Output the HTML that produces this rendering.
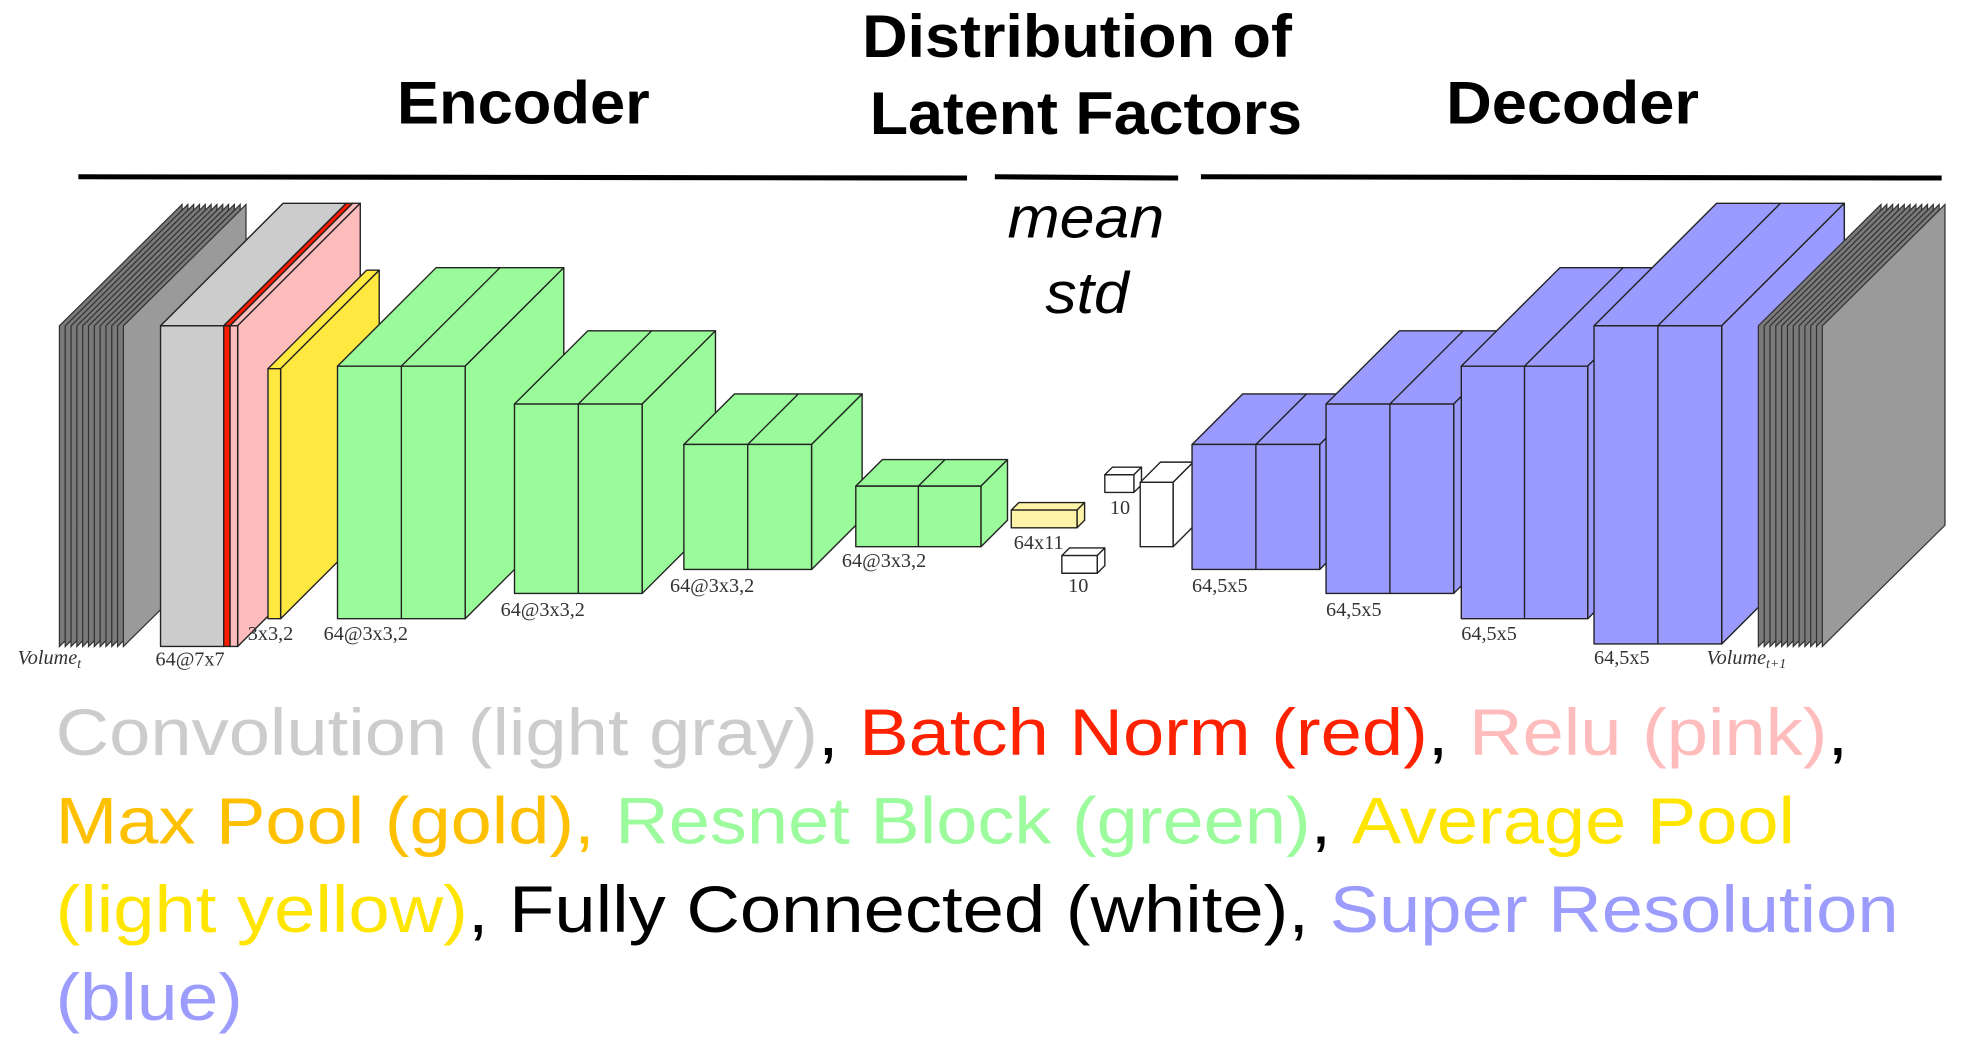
<!DOCTYPE html>
<html><head><meta charset="utf-8"><style>
html,body{margin:0;padding:0;background:#fff;width:1972px;height:1048px;overflow:hidden}
svg{display:block}
.lab{font-family:"Liberation Serif",serif;font-size:16px;fill:#333}
.leg{font-family:"Liberation Sans",sans-serif;font-size:52px}
</style></head><body>
<svg id="fig" width="1972" height="1048" viewBox="0 0 1560 830" preserveAspectRatio="none" xmlns="http://www.w3.org/2000/svg">
<g font-family="Liberation Sans, sans-serif" font-weight="bold" font-size="48">
<text x="314" y="98" textLength="200" lengthAdjust="spacingAndGlyphs">Encoder</text>
<text x="682" y="45" textLength="340" lengthAdjust="spacingAndGlyphs">Distribution of</text>
<text x="688" y="106" textLength="342" lengthAdjust="spacingAndGlyphs">Latent Factors</text>
<text x="1144" y="98" textLength="200" lengthAdjust="spacingAndGlyphs">Decoder</text>
</g>
<g stroke="#000" stroke-width="4">
<line x1="62" y1="140" x2="765" y2="141"/>
<line x1="787" y1="140" x2="932" y2="141"/>
<line x1="950" y1="140" x2="1536" y2="141"/>
</g>
<g font-family="Liberation Sans, sans-serif" font-style="italic" font-size="46">
<text x="797" y="188" textLength="124" lengthAdjust="spacingAndGlyphs">mean</text>
<text x="827" y="248" textLength="66" lengthAdjust="spacingAndGlyphs">std</text>
</g>
<g id="blocks"></g>
<g>
<text class="lab" x="14" y="526" font-style="italic" font-size="17">Volume<tspan font-size="11" dy="3">t</tspan></text>
<text class="lab" x="123" y="527">64@7x7</text>
<text class="lab" x="196" y="507">3x3,2</text>
<text class="lab" x="256" y="507">64@3x3,2</text>
<text class="lab" x="396" y="488">64@3x3,2</text>
<text class="lab" x="530" y="469">64@3x3,2</text>
<text class="lab" x="666" y="449">64@3x3,2</text>
<text class="lab" x="802" y="435">64x11</text>
<text class="lab" x="878" y="407">10</text>
<text class="lab" x="845" y="469">10</text>
<text class="lab" x="943" y="469">64,5x5</text>
<text class="lab" x="1049" y="488">64,5x5</text>
<text class="lab" x="1156" y="507">64,5x5</text>
<text class="lab" x="1261" y="526">64,5x5</text>
<text class="lab" x="1350" y="526" font-style="italic" font-size="17">Volume<tspan font-size="11" dy="3">t+1</tspan></text>
</g>
<g>
<text class="leg" x="44" y="598" textLength="1418" lengthAdjust="spacingAndGlyphs"><tspan fill="#cccccc">Convolution (light gray)</tspan><tspan fill="#000">, </tspan><tspan fill="#ff2200">Batch Norm (red)</tspan><tspan fill="#000">, </tspan><tspan fill="#ffbcbc">Relu (pink)</tspan><tspan fill="#000">,</tspan></text>
<text class="leg" x="44" y="668" textLength="1376" lengthAdjust="spacingAndGlyphs"><tspan fill="#ffc000">Max Pool (gold),</tspan><tspan fill="#9cfb9c"> Resnet Block (green)</tspan><tspan fill="#000">, </tspan><tspan fill="#ffe500">Average Pool</tspan></text>
<text class="leg" x="44" y="738" textLength="1458" lengthAdjust="spacingAndGlyphs"><tspan fill="#ffe500">(light yellow)</tspan><tspan fill="#000">, Fully Connected (white), </tspan><tspan fill="#9c9cff">Super Resolution</tspan></text>
<text class="leg" x="44" y="808" textLength="148" lengthAdjust="spacingAndGlyphs" fill="#9c9cff">(blue)</text>
</g>
</svg>
<script>
var NS='http://www.w3.org/2000/svg';
var G=document.getElementById('blocks');
// layer geometry: name, x, y(top of front), width, height, depth, fill, mid-split
var layerNames=['conv','batchnorm','relu','maxpool','resnet-1','resnet-2','resnet-3','resnet-4','avgpool','mean-fc','std-fc','fc','sr-1','sr-2','sr-3','sr-4'];
var layerX=[127,177,182,212,267,407,541,677,800,874,840,902,943,1049,1156,1261];
var layerY=[258,258,258,292,290,320,352,385,404,376,440,382,352,320,290,258];
var layerW=[50,5,6,10,101,101,101,99,52,23,28,26,101,101,100,101];
var layerH=[254,254,254,198,200,150,99,48,14,14,14,51,99,150,200,252];
var layerD=[97,97,97,78,78,58,40,21,6,6,6,16,40,58,78,97];
var layerFill=['#cccccc','#ff1a00','#ffbcbc','#ffe83f','#99fb99','#99fb99','#99fb99','#99fb99','#fff3a8','#ffffff','#ffffff','#ffffff','#9a9aff','#9a9aff','#9a9aff','#9a9aff'];
var layerSplit=[0,0,0,0,1,1,1,1,0,0,0,0,1,1,1,1];
function mk(tag,attrs,parent){var e=document.createElementNS(NS,tag);for(var k in attrs)e.setAttribute(k,attrs[k]);parent.appendChild(e);return e;}
function box(name,x,y,w,h,d,fill,split){
  var g=mk('g',{stroke:'#222','stroke-width':1.1,'stroke-linejoin':'round'},G);
  
  
  mk('polygon',{points:[x,y,x+d,y-d,x+w+d,y-d,x+w,y].join(','),fill:fill},g);
  mk('polygon',{points:[x+w,y,x+w+d,y-d,x+w+d,y+h-d,x+w,y+h].join(','),fill:fill},g);
  mk('rect',{x:x,y:y,width:w,height:h,fill:fill},g);
  if(split){var m=x+w/2;mk('line',{x1:m,y1:y,x2:m,y2:y+h},g);mk('line',{x1:m,y1:y,x2:m+d,y2:y-d},g);}
}
function stack(name,x0,n){
  var g=mk('g',{},G);
  
  
  for(var i=0;i<n;i++){
    var x=x0+i*4.6;
    var p=mk('polygon',{points:[x,258,x+97,162,x+97,416,x,512].join(','),fill:i==n-1?'#9a9a9a':'#7a7a7a',stroke:'#333','stroke-width':1},g);
    
    
  }
}
stack('volume-t-stack',47,12);
for(var i=0;i<layerNames.length;i++){
  box(layerNames[i],layerX[i],layerY[i],layerW[i],layerH[i],layerD[i],layerFill[i],layerSplit[i]);
}
stack('volume-t1-stack',1391,12);
</script>
</body></html>
